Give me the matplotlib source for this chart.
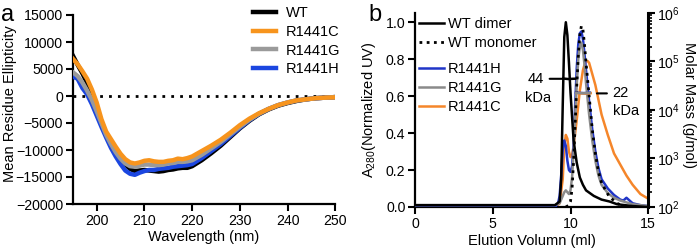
import matplotlib
matplotlib.use("Agg")
import matplotlib.pyplot as plt
from matplotlib.lines import Line2D
from matplotlib.ticker import LogLocator, LogFormatterMathtext, FixedLocator

plt.rcParams['font.family'] = ['Liberation Sans', 'DejaVu Sans']
plt.rcParams['mathtext.fontset'] = 'custom'
plt.rcParams['mathtext.rm'] = 'Liberation Sans'
plt.rcParams['mathtext.it'] = 'Liberation Sans:italic'

# ---------------- Panel a: CD spectra ----------------
wavelength = [195, 196, 197, 198, 199, 200, 201, 202, 203, 204, 205, 206, 207, 208, 209,
              210, 211, 212, 213, 214, 215, 216, 217, 218, 219, 220, 222, 224, 226, 228,
              230, 232, 234, 236, 238, 240, 242, 244, 246, 248, 250]
cd_wt = [7500, 5800, 4200, 2400, 400, -2000, -4800, -7000, -8800, -10300, -11600, -12700,
         -13500, -13900, -13800, -13700, -13800, -13900, -14000, -13900, -13700, -13600,
         -13400, -13300, -13300, -13000, -11900, -10600, -9200, -7600, -6000, -4600, -3400,
         -2500, -1800, -1300, -900, -600, -400, -300, -200]
cd_c = [6900, 5900, 4600, 3200, 1200, -1200, -4300, -6600, -8000, -9400, -10700, -11700,
        -12300, -12500, -12300, -12000, -11900, -12100, -12200, -12200, -12000, -11900,
        -11600, -11700, -11500, -11200, -10200, -9200, -8100, -6800, -5400, -4200, -3200,
        -2400, -1700, -1200, -800, -600, -400, -300, -250]
cd_g = [4400, 3700, 2500, 1000, -700, -2800, -5000, -7200, -8900, -10400, -11600, -12500,
        -13000, -13100, -12900, -12700, -12700, -12800, -12800, -12700, -12500, -12400,
        -12200, -12200, -12100, -11900, -10900, -9700, -8500, -7100, -5700, -4400, -3300,
        -2400, -1700, -1200, -800, -600, -400, -300, -200]
cd_h = [3600, 3200, 1500, 300, -1500, -3600, -5700, -7700, -9600, -11200, -12600, -13800,
        -14400, -14600, -14200, -13900, -13700, -13700, -13500, -13400, -13300, -13100,
        -13000, -12900, -12800, -12600, -11500, -10200, -8900, -7400, -5900, -4500, -3300,
        -2400, -1700, -1200, -800, -600, -400, -300, -200]
cd_labels = ['WT', 'R1441C', 'R1441G', 'R1441H']

# ---------------- Panel b: SEC-MALS ----------------
dimer_v = [0, 9.0, 9.3, 9.4, 9.5, 9.6, 9.7, 9.8, 9.9, 10.0, 10.2, 10.4, 10.6, 10.8, 11.0,
           11.5, 12.0, 12.5, 13.0, 14.0, 15.0]
dimer_a = [0.01, 0.01, 0.03, 0.15, 0.55, 0.92, 1.0, 0.93, 0.78, 0.62, 0.36, 0.24, 0.16,
           0.12, 0.09, 0.06, 0.04, 0.03, 0.015, 0.005, 0.0]
mono_v = [9.7, 9.9, 10.0, 10.1, 10.2, 10.3, 10.4, 10.5, 10.6, 10.7, 10.8, 10.9, 11.0, 11.2,
          11.4, 11.6, 11.8, 12.0, 12.5, 13.0, 13.5]
mono_a = [0.0, 0.01, 0.03, 0.1, 0.25, 0.45, 0.65, 0.82, 0.93, 0.98, 0.96, 0.88, 0.78, 0.6,
          0.42, 0.29, 0.19, 0.13, 0.055, 0.02, 0.0]
h_v = [0, 9.0, 9.2, 9.3, 9.4, 9.5, 9.6, 9.7, 9.8, 9.9, 10.0, 10.1, 10.2, 10.3, 10.4, 10.5,
       10.6, 10.7, 10.8, 10.9, 11.0, 11.2, 11.4, 11.6, 11.8, 12.0, 12.4, 12.8, 13.2, 13.4,
       13.6, 13.8, 14.0, 14.5, 15.0]
h_a = [0, 0.0, 0.02, 0.06, 0.17, 0.31, 0.36, 0.33, 0.25, 0.2, 0.19, 0.22, 0.34, 0.55, 0.75,
       0.88, 0.94, 0.95, 0.91, 0.83, 0.74, 0.57, 0.42, 0.3, 0.21, 0.15, 0.1, 0.065, 0.04,
       0.035, 0.05, 0.035, 0.02, 0.01, 0.005]
g_v = [0, 9.0, 9.3, 9.5, 9.6, 9.7, 9.8, 9.9, 10.0, 10.1, 10.2, 10.3, 10.4, 10.5, 10.6, 10.7,
       10.8, 10.9, 11.0, 11.2, 11.4, 11.6, 11.8, 12.0, 12.4, 12.8, 13.2, 13.6, 14.0, 14.5, 15.0]
g_a = [0.01, 0.01, 0.02, 0.06, 0.08, 0.09, 0.08, 0.07, 0.09, 0.16, 0.3, 0.48, 0.66, 0.8,
       0.87, 0.89, 0.85, 0.77, 0.67, 0.5, 0.36, 0.25, 0.17, 0.12, 0.075, 0.05, 0.035, 0.025,
       0.015, 0.01, 0.005]
c_v = [9.0, 9.3, 9.5, 9.6, 9.7, 9.8, 9.9, 10.0, 10.1, 10.2, 10.4, 10.6, 10.8, 10.9, 11.0,
       11.1, 11.2, 11.4, 11.6, 11.8, 12.0, 12.4, 12.8, 13.2, 13.6, 14.0, 14.5, 15.0]
c_a = [0.0, 0.02, 0.15, 0.33, 0.39, 0.37, 0.3, 0.27, 0.28, 0.33, 0.47, 0.63, 0.74, 0.77,
       0.79, 0.79, 0.78, 0.72, 0.66, 0.58, 0.5, 0.39, 0.29, 0.23, 0.17, 0.12, 0.07, 0.045]

# molar mass traces (g/mol)
mm_dimer_v = [9.55, 9.7, 9.85, 10.0, 10.15, 10.3]
mm_dimer = [44500, 44000, 43500, 43800, 44000, 44200]
mm_h_v = [10.35, 10.6, 10.85, 11.1, 11.25]
mm_h = [22800, 22500, 22300, 22500, 22700]
mm_c_v = [10.45, 10.7, 10.95, 11.2, 11.3]
mm_c = [22300, 22000, 21800, 22000, 22200]
mm_g_v = [10.35, 10.6, 10.85, 11.1, 11.25]
mm_g = [22600, 22400, 22200, 22400, 22600]

sec_labels_wt = ['WT dimer', 'WT monomer']
sec_labels_mut = ['R1441H', 'R1441G', 'R1441C']

# ---------------- drawing ----------------
fig = plt.figure(figsize=(7, 2.5), dpi=100)
FS = 10.5   # labels / legend
TS = 10.2   # tick labels

col_a = {'WT': 'black', 'R1441C': '#F7941D', 'R1441G': '#9A9A9A', 'R1441H': '#1B46E0'}

ax = fig.add_axes([0.104, 0.184, 0.375, 0.756])
l_wt, = ax.plot(wavelength, cd_wt, color=col_a['WT'], lw=3.2, zorder=2)
l_h, = ax.plot(wavelength, cd_h, color=col_a['R1441H'], lw=3.2, zorder=3)
l_g, = ax.plot(wavelength, cd_g, color=col_a['R1441G'], lw=3.2, zorder=4)
l_c, = ax.plot(wavelength, cd_c, color=col_a['R1441C'], lw=3.2, zorder=5)
ax.axhline(0, color='black', lw=2, ls=(0, (1, 2.2)), zorder=1)
ax.set_xlim(195, 250)
ax.set_ylim(-20000, 15000)
ax.set_xticks([200, 210, 220, 230, 240, 250])
ax.set_yticks(range(-20000, 15001, 5000))
ax.set_xlabel('Wavelength (nm)', fontsize=FS, labelpad=2)
for s in ['top', 'right']:
    ax.spines[s].set_visible(False)
for s in ['left', 'bottom']:
    ax.spines[s].set_linewidth(1.6)
ax.tick_params(direction='out', length=5, width=1.5, labelsize=TS, pad=2)
fig.text(10 / 700, 1 - 104 / 250, 'Mean Residue Ellipticity', fontsize=FS,
         rotation=90, ha='center', va='center')
fig.legend([l_wt, l_c, l_g, l_h], cd_labels, loc='upper left',
           bbox_to_anchor=(0.361, 0.975), frameon=False, fontsize=FS,
           handlelength=1.6, handletextpad=0.7, labelspacing=0.32,
           borderpad=0, borderaxespad=0)
fig.text(0.002, 0.915, 'a', fontsize=17)

# panel b
col_b = {'H': '#2035C8', 'G': '#8A8A8A', 'C': '#F5862A'}
bx = fig.add_axes([0.593, 0.172, 0.333, 0.776])
bx.plot(c_v, c_a, color=col_b['C'], lw=1.8, zorder=2)
bx.plot(h_v, h_a, color=col_b['H'], lw=1.8, zorder=3)
bx.plot(g_v, g_a, color=col_b['G'], lw=1.8, zorder=4)
bx.plot(dimer_v, dimer_a, color='black', lw=1.8, zorder=5)
bx.plot(mono_v, mono_a, color='black', lw=2.0, ls=(0, (1, 1.6)), zorder=6)
bx.set_xlim(0, 15)
bx.set_ylim(0, 1.05)
bx.yaxis.set_major_locator(FixedLocator([0, 0.2, 0.4, 0.6, 0.8, 1.0]))
bx.set_yticklabels(['0.0', '0.2', '0.4', '0.6', '0.8', '1.0'])
bx.set_xticks([0, 5, 10, 15])
bx.set_xlabel('Elution Volumn (ml)', fontsize=FS, labelpad=2)
bx.spines['top'].set_visible(False)
bx.spines['right'].set_visible(False)
for s in ['left', 'bottom']:
    bx.spines[s].set_linewidth(1.6)
bx.tick_params(direction='out', length=5, width=1.5, labelsize=TS, pad=2)
fig.text(369 / 700, 1 - 110 / 250, 'A$_{280}$(Normalized UV)', fontsize=FS,
         rotation=90, ha='center', va='center')

rx = bx.twinx()
rx.set_yscale('log')
rx.set_ylim(1e2, 1e6)
rx.plot(mm_dimer_v, mm_dimer, color='black', lw=1.8)
rx.plot(mm_h_v, mm_h, color=col_b['H'], lw=1.8)
rx.plot(mm_c_v, mm_c, color=col_b['C'], lw=1.8)
rx.plot(mm_g_v, mm_g, color=col_b['G'], lw=1.8)
rx.yaxis.set_major_locator(LogLocator(base=10, numticks=10))
rx.yaxis.set_minor_locator(LogLocator(base=10, subs=(2, 3, 4, 5, 6, 7, 8, 9), numticks=20))
rx.yaxis.set_major_formatter(LogFormatterMathtext())
for s in ['top', 'left', 'bottom']:
    rx.spines[s].set_visible(False)
rx.spines['right'].set_linewidth(2.2)
rx.tick_params(axis='y', which='major', direction='out', length=5, width=1.5, labelsize=TS, pad=1)
rx.tick_params(axis='y', which='minor', direction='out', length=3, width=1.2)
fig.text(689 / 700, 1 - 105 / 250, 'Molar Mass (g/mol)', fontsize=FS,
         rotation=270, ha='center', va='center')

# molar-mass annotations
rx.annotate('44', xy=(9.55, 44000), xytext=(8.3, 44000), fontsize=FS, ha='right', va='center',
            arrowprops=dict(arrowstyle='-', color='black', lw=1.5, shrinkA=2, shrinkB=0))
rx.text(7.9, 17500, 'kDa', fontsize=FS, ha='center', va='center')
rx.annotate('22', xy=(11.7, 22000), xytext=(12.7, 22000), fontsize=FS, ha='left', va='center',
            arrowprops=dict(arrowstyle='-', color='black', lw=1.5, shrinkA=2, shrinkB=0))
rx.text(13.6, 9500, 'kDa', fontsize=FS, ha='center', va='center')

h1 = [Line2D([], [], color='black', lw=1.8),
      Line2D([], [], color='black', lw=2.0, ls=(0, (1, 1.6)))]
h2 = [Line2D([], [], color=col_b['H'], lw=1.8),
      Line2D([], [], color=col_b['G'], lw=1.8),
      Line2D([], [], color=col_b['C'], lw=1.8)]
fig.legend(h1, sec_labels_wt, loc='upper left', bbox_to_anchor=(0.599, 0.932),
           frameon=False, fontsize=FS, handlelength=1.7, handletextpad=0.25,
           labelspacing=0.35, borderpad=0, borderaxespad=0)
fig.legend(h2, sec_labels_mut, loc='upper left', bbox_to_anchor=(0.599, 0.752),
           frameon=False, fontsize=FS, handlelength=1.7, handletextpad=0.25,
           labelspacing=0.35, borderpad=0, borderaxespad=0)
fig.text(0.527, 0.915, 'b', fontsize=17)

fig.savefig('out.png', dpi=100)
